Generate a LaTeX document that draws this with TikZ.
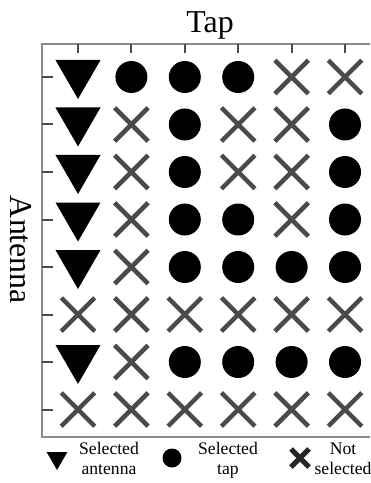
\documentclass[tikz,border=0pt]{standalone}
\usepackage{fontspec}
\setmainfont{Liberation Serif}
\usetikzlibrary{shapes.geometric, shapes.misc}
\definecolor{markgray}{HTML}{4A4A4A}
\definecolor{framegray}{HTML}{8C8C8C}
\tikzset{
  symt/.style={regular polygon, regular polygon sides=3, shape border rotate=180,
               fill=black, minimum size=52bp, inner sep=0pt, yshift=4bp},
  symo/.style={circle, fill=black, minimum size=32bp, inner sep=0pt},
  symx/.style={cross out, draw=markgray, line width=4.5bp, minimum size=29bp, inner sep=0pt},
  legt/.style={regular polygon, regular polygon sides=3, shape border rotate=180,
               fill=black, minimum size=24bp, inner sep=0pt},
  lego/.style={circle, fill=black, minimum size=19bp, inner sep=0pt},
  legx/.style={cross out, draw=black!85, line width=5bp, minimum size=13bp, inner sep=0pt},
  axtitle/.style={font=\fontsize{32}{32}\selectfont, inner sep=0pt},
  legtext/.style={font=\fontsize{17.7}{20}\selectfont, align=center, inner sep=0pt, anchor=north},
  frameline/.style={draw=framegray, line width=1.5bp},
  tickline/.style={draw=markgray, line width=2bp},
}
\begin{document}
\begin{tikzpicture}[x=1bp, y=-1bp]
  \useasboundingbox (0,0) rectangle (370,483);
  \clip (0,0) rectangle (370,483);

  %% axis titles
  \node[axtitle, anchor=base] (taptitle) at (210,33) {Tap};
  \node[axtitle, rotate=-90] (anttitle) at (21,250) {Antenna};

  %% frame and ticks
  \draw[frameline] (400,44) -- (42,44) -- (42,437) -- (400,437);
  \foreach \c in {1,...,6}
    \draw[tickline] ({24.6+53.4*\c},44) -- ++(0,9);
  \foreach \r in {1,...,8}
    \draw[tickline] (42,{29.5+47.5*\r}) -- ++(11,0);

  %% selection map (t = antenna, o = tap, x = not selected)
  \foreach \row [count=\r] in {{t,o,o,o,x,x},{t,x,o,x,x,o},{t,x,o,x,x,o},{t,x,o,o,x,o},
                               {t,x,o,o,o,o},{x,x,x,x,x,x},{t,x,o,o,o,o},{x,x,x,x,x,x}}
    \foreach \s [count=\c] in \row
      \node[sym\s] (m\r-\c) at ({24.6+53.4*\c},{29.5+47.5*\r}) {};

  %% legend
  \node[legt] (lgt) at (57,458) {};
  \node[legtext] (lgttext) at (109,442.5) {Selected\\antenna};
  \node[lego] (lgo) at (172,458) {};
  \node[legtext] (lgotext) at (228,442.5) {Selected\\tap};
  \node[legx] (lgx) at (300,458) {};
  \node[legtext] (lgxtext) at (343,442.5) {Not\\selected};

\end{tikzpicture}
\end{document}
